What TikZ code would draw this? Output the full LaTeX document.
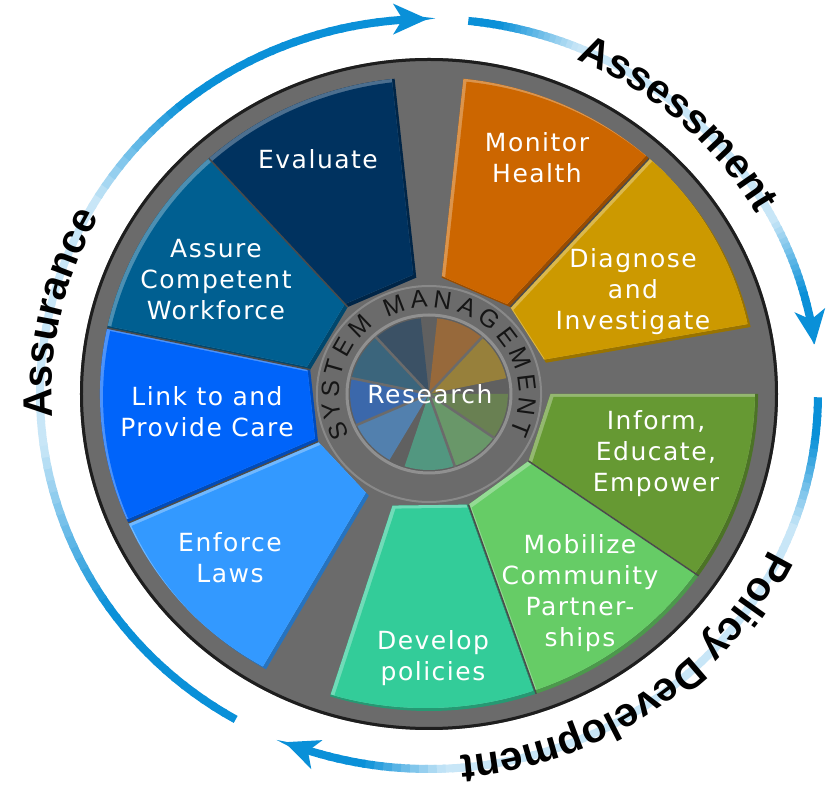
\documentclass[tikz,border=0pt]{standalone}
\usepackage{fontspec}
\setmainfont{DejaVu Sans}
\newfontfamily\wedgefont[LetterSpace=6]{DejaVu Sans}
\newfontfamily\ringfont{Liberation Sans}
\newfontfamily\labfont{Liberation Sans}
\usetikzlibrary{arrows.meta,decorations.text}

\definecolor{diskgray}{HTML}{6B6B6B}
\definecolor{rimdark}{HTML}{1E1E1E}
\definecolor{ringink}{HTML}{151515}
\definecolor{cEval}{HTML}{00325F}
\definecolor{cAssure}{HTML}{005F91}
\definecolor{cLink}{HTML}{0064FA}
\definecolor{cEnforce}{HTML}{3399FF}
\definecolor{cDevelop}{HTML}{33CC99}
\definecolor{cMobil}{HTML}{66CC66}
\definecolor{cInform}{HTML}{669933}
\definecolor{cDiag}{HTML}{CC9900}
\definecolor{cMonitor}{HTML}{CC6600}
\definecolor{arcblue}{HTML}{0A90D8}
\definecolor{arcpale}{HTML}{C8E6F7}

\newcommand\wshape[4]{(#1:117) -- (#3:317) arc[start angle=#3,end angle=#4,radius=317] -- (#2:117) -- cycle}
\newcommand\bwedge[5]{%
  \begin{scope}
    \clip \wshape{#2}{#3}{#4}{#5};
    \fill[#1!75!black] (-400,-400) rectangle (400,400);
    \clip[shift={(-3,3)}] \wshape{#2}{#3}{#4}{#5};
    \fill[#1!70!white] (-400,-400) rectangle (400,400);
    \clip[shift={(3,-3)}] \wshape{#2}{#3}{#4}{#5};
    \fill[#1] (-400,-400) rectangle (400,400);
  \end{scope}}

% gradient arc: #1 start, #2 blue until, #3 pale from, #4 pale until, #5 blue from, #6 arrow base, #7 tip
\newcommand\gradarc[7]{%
  \foreach \i in {0,...,79}{%
    \pgfmathsetmacro\aa{#1-(#1-(#6))*\i/80}%
    \pgfmathsetmacro\ab{#1-(#1-(#6))*(\i+1)/80-0.4}%
    \pgfmathsetmacro\ff{100*min(1,max(0,(\aa-(#3))/((#2)-(#3))))+100*min(1,max(0,((#4)-\aa)/((#4)-(#5))))}%
    \draw[arcseg, color=arcblue!\ff!arcpale] ({389*cos(\aa)},{375*sin(\aa)}) arc[start angle=\aa, end angle=\ab, x radius=389, y radius=375];
  }%
  \draw[line width=8pt, arcblue, -{Stealth[length=34pt,width=30pt,inset=9pt]}] ({389*cos(#6)},{375*sin(#6)}) arc[start angle=#6, end angle=#7, x radius=389, y radius=375];
}

\begin{document}
\begin{tikzpicture}[x=1pt,y=1pt,
  wtext/.style={text=white,font=\wedgefont\fontsize{25}{31}\selectfont,align=center,inner sep=0pt},
  ringletter/.style={text=ringink,font=\ringfont\fontsize{25}{25}\selectfont,inner sep=0pt},
  arcseg/.style={line width=8pt,line cap=butt},
  labpath/.style={decorate,decoration={text along path,text color=black,text align=center,
     text={|\labfont\bfseries\fontsize{41}{41}\selectfont|#1}}}
]
\useasboundingbox (-429,-397) rectangle (398,394);
\fill[white] (-429,-397) rectangle (398,394);

% outer disk
\fill[diskgray] (0,0) ellipse [x radius=349, y radius=336];
\draw[rimdark, line width=3pt] (0,0) ellipse [x radius=347.5, y radius=334.5];

\begin{scope}[xscale=1.038]
  % nine wedges
  \bwedge{cMonitor}{48}{84}{48}{84}
  \bwedge{cDiag}{15.5}{48}{12.2}{48}
  \bwedge{cInform}{-35}{0}{-35}{0}
  \bwedge{cMobil}{-71}{-35}{-71}{-35}
  \bwedge{cDevelop}{-107.5}{-71}{-107.5}{-71}
  \bwedge{cEnforce}{-156}{-119.7}{-156}{-119.7}
  \bwedge{cLink}{168}{204}{168}{204}
  \bwedge{cAssure}{132}{168}{132}{168}
  \bwedge{cEval}{96}{132}{96}{132}
  \foreach \t in {48,-35,-71,204,168,132}
    \draw[diskgray!70!black, line width=1.5pt] (\t:117) -- (\t:317);
  % system management ring
  \fill[diskgray] (0,0) circle (109);
  \draw[diskgray!80!white, line width=2pt] (0,0) circle (108);
  % research disk
  \fill[diskgray!90!black] (0,0) circle (80);
  \foreach \c/\a/\b in {cMonitor/48/84,cDiag/12/48,cInform/-35/0,cMobil/-71/-35,cDevelop/-108/-71,cEnforce/-156/-120,cLink/-192/-156,cAssure/132/168,cEval/96/132}
    \fill[\c!45!diskgray] (0,0) -- (\a:76) arc[start angle=\a,end angle=\b,radius=76] -- cycle;
  \foreach \t in {48,-35,-71,-156,168,132}
    \draw[diskgray, line width=2.5pt] (0,0) -- (\t:78);
  \draw[diskgray!75!white, line width=3pt] (0,0) circle (79);
\end{scope}

% ring lettering
\foreach \ch/\ang [count=\k] in {S/203,Y/190,S/177,T/164,E/150,M/134,M/111,A/96,N/82,A/67,G/52,E/37,M/22,E/7,N/-7.5,T/-21.5}
  \node[ringletter, rotate=\ang-90] (sm\k) at ({95*1.038*cos(\ang)},{95*sin(\ang)}) {\ch};

% wedge labels
\node[wtext] (monitor) at (108,236) {Monitor\\Health};
\node[wtext] (diagnose) at (204,102) {Diagnose\\and\\Investigate};
\node[wtext] (inform) at (227,-60) {Inform,\\Educate,\\Empower};
\node[wtext] (mobilize) at (151,-199) {Mobilize\\Community\\Partner-\\ships};
\node[wtext] (develop) at (4,-264) {Develop\\policies};
\node[wtext] (enforce) at (-199,-164) {Enforce\\Laws};
\node[wtext] (link) at (-222,-18) {Link to and\\Provide Care};
\node[wtext] (assure) at (-213,114) {Assure\\Competent\\Workforce};
\node[wtext] (evaluate) at (-111,235) {Evaluate};
\node[wtext] (research) at (1,0) {Research};

% outer cycle arcs
\gradarc{84.2}{80}{68}{28}{16}{14}{7.6}
\gradarc{-0.5}{-6}{-20}{-87}{-99}{-106}{-111.8}
\gradarc{240.2}{216}{189}{150}{130}{96}{90.2}

% outer labels
\path[labpath=Assessment] ({377*cos(88)},{363*sin(88)}) arc[start angle=88,end angle=8,x radius=377,y radius=363];
\path[labpath=Policy Development] ({377*cos(-5)},{363*sin(-5)}) arc[start angle=-5,end angle=-105,x radius=377,y radius=363];
\path[labpath=Assurance] ({377*cos(215)},{363*sin(215)}) arc[start angle=215,end angle=120,x radius=377,y radius=363];
\end{tikzpicture}
\end{document}
